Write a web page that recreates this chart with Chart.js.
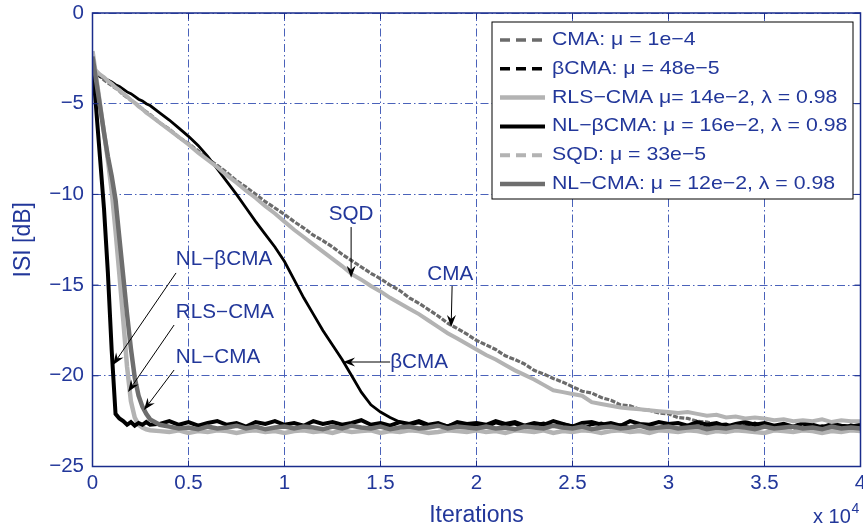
<!DOCTYPE html>
<html><head><meta charset="utf-8">
<script src="https://cdn.jsdelivr.net/npm/chart.js@4.4.1/dist/chart.umd.min.js"></script>
<style>html,body{margin:0;padding:0;background:#fff;}#wrap{width:863px;height:531px;}</style>
</head><body><div id="wrap"><canvas id="c" width="863" height="531"></canvas></div>
<script>
// ---- data (iterations in units of 1e4, ISI in dB) ----
const iterations = [0,0.02,0.04,0.06,0.08,0.10,0.12,0.14,0.16,0.18,0.20,0.22,0.24,0.26,0.28,0.30,
0.35,0.40,0.45,0.50,0.55,0.60,0.65,0.70,0.75,0.80,0.85,0.90,0.95,1.00,
1.05,1.10,1.15,1.20,1.25,1.30,1.35,1.40,1.45,1.50,1.55,1.60,1.65,1.70,1.75,1.80,1.85,1.90,1.95,2.00,
2.05,2.10,2.15,2.20,2.25,2.30,2.35,2.40,2.45,2.50,2.55,2.60,2.65,2.70,2.75,2.80,2.85,2.90,2.95,3.00,
3.05,3.10,3.15,3.20,3.25,3.30,3.35,3.40,3.45,3.50,3.55,3.60,3.65,3.70,3.75,3.80,3.85,3.90,3.95,4.00];

const cmaISI = [-3.2,-3.35,-3.5,-3.7,-3.85,-4.0,-4.15,-4.3,-4.5,-4.65,-4.8,-4.95,-5.1,-5.3,-5.45,-5.6,
-6.05,-6.4,-6.85,-7.2,-7.6,-8.05,-8.4,-8.8,-9.25,-9.6,-10.0,-10.4,-10.75,-11.1,
-11.5,-11.85,-12.25,-12.55,-12.9,-13.3,-13.65,-14.0,-14.35,-14.65,-15.0,-15.3,-15.7,-16.0,-16.35,-16.7,-17.1,-17.4,-17.7,-18.05,
-18.3,-18.55,-18.9,-19.1,-19.35,-19.7,-19.9,-20.15,-20.35,-20.6,-20.85,-20.95,-21.2,-21.35,-21.6,-21.65,-21.85,-21.9,-22.05,-22.1,
-22.3,-22.35,-22.5,-22.55,-22.7,-22.7,-22.85,-22.75,-22.9,-22.8,-22.95,-22.8,-22.9,-22.85,-22.8,-22.9,-22.95,-22.8,-22.95,-22.85];

const betaCmaISI = [-3.3,-3.4,-3.5,-3.6,-3.7,-3.8,-3.95,-4.05,-4.2,-4.35,-4.45,-4.6,-4.75,-4.85,-5.0,-5.1,
-5.5,-5.9,-6.35,-6.8,-7.3,-7.9,-8.6,-9.3,-10.0,-10.75,-11.5,-12.2,-12.9,-13.7,
-14.7,-15.7,-16.6,-17.5,-18.3,-19.1,-20.0,-20.9,-21.6,-22.0,-22.3,-22.55,-22.7,-22.6,-22.8,-22.65,-22.75,-22.6,-22.8,-22.7,
-22.85,-22.6,-22.75,-22.65,-22.9,-22.7,-22.6,-22.8,-22.65,-22.75,-22.9,-22.7,-22.6,-22.8,-22.7,-22.85,-22.65,-22.75,-22.9,-22.7,
-22.6,-22.8,-22.75,-22.9,-22.7,-22.65,-22.85,-22.75,-22.6,-22.8,-22.9,-22.7,-22.8,-22.65,-22.9,-22.75,-22.8,-22.95,-22.7,-22.85];

const rlsCmaISI = [-2.1,-3.6,-5.1,-6.6,-8.1,-9.8,-12.0,-14.4,-16.9,-19.5,-21.4,-22.3,-22.7,-22.85,-22.95,-23.0,
-23.05,-23.1,-23.0,-23.15,-23.05,-23.1,-23.0,-23.05,-23.15,-23.05,-23.0,-23.1,-23.05,-23.15,
-23.05,-23.0,-23.1,-23.05,-23.15,-23.0,-23.1,-23.05,-23.0,-23.15,-23.05,-23.1,-23.0,-23.05,-23.15,-23.1,-23.0,-23.05,-23.1,-23.0,
-23.1,-23.05,-23.15,-23.0,-23.05,-23.1,-23.0,-23.15,-23.05,-23.1,-23.0,-23.05,-23.15,-23.05,-23.0,-23.1,-23.05,-23.15,-23.0,-23.05,
-23.1,-23.0,-23.05,-23.15,-23.05,-23.1,-23.0,-23.05,-23.1,-23.15,-23.0,-23.05,-23.1,-23.0,-23.05,-23.15,-23.05,-23.1,-23.0,-23.05];

const nlBetaCmaISI = [-2.8,-5.4,-8.1,-10.8,-14.3,-18.6,-22.1,-22.35,-22.5,-22.7,-22.55,-22.75,-22.6,-22.7,-22.55,-22.7,
-22.65,-22.5,-22.7,-22.55,-22.75,-22.6,-22.5,-22.7,-22.6,-22.8,-22.55,-22.65,-22.5,-22.7,
-22.6,-22.75,-22.5,-22.65,-22.55,-22.7,-22.6,-22.45,-22.7,-22.6,-22.75,-22.55,-22.65,-22.5,-22.7,-22.6,-22.8,-22.55,-22.65,-22.6,
-22.7,-22.5,-22.65,-22.55,-22.75,-22.6,-22.7,-22.5,-22.65,-22.8,-22.6,-22.55,-22.7,-22.6,-22.75,-22.5,-22.65,-22.7,-22.55,-22.65,
-22.6,-22.75,-22.55,-22.7,-22.6,-22.8,-22.65,-22.55,-22.7,-22.6,-22.75,-22.65,-22.8,-22.6,-22.7,-22.85,-22.65,-22.75,-22.8,-22.7];

const sqdISI = [-3.0,-3.2,-3.4,-3.55,-3.75,-3.9,-4.1,-4.25,-4.45,-4.6,-4.8,-4.95,-5.15,-5.3,-5.5,-5.65,
-6.05,-6.45,-6.85,-7.25,-7.7,-8.1,-8.5,-8.95,-9.35,-9.8,-10.2,-10.65,-11.05,-11.5,
-11.95,-12.35,-12.75,-13.15,-13.55,-13.95,-14.4,-14.7,-15.05,-15.35,-15.7,-16.0,-16.3,-16.6,-16.95,-17.3,-17.65,-17.95,-18.25,-18.55,
-18.85,-19.1,-19.4,-19.7,-19.95,-20.2,-20.5,-20.8,-20.9,-21.0,-21.1,-21.45,-21.55,-21.65,-21.75,-21.8,-21.85,-21.9,-21.95,-22.0,
-22.05,-22.0,-22.1,-22.2,-22.15,-22.3,-22.25,-22.35,-22.3,-22.35,-22.45,-22.4,-22.5,-22.45,-22.5,-22.4,-22.55,-22.45,-22.5,-22.5];

const nlCmaISI = [-2.4,-3.8,-5.2,-6.6,-7.9,-9.0,-10.3,-12.4,-14.5,-16.6,-18.5,-20.1,-21.1,-21.7,-22.1,-22.4,
-22.7,-22.8,-22.9,-22.85,-22.95,-22.8,-22.9,-22.85,-22.75,-22.9,-22.8,-22.95,-22.85,-22.8,
-22.9,-22.8,-22.85,-22.95,-22.8,-22.9,-22.75,-22.85,-22.9,-22.8,-22.95,-22.85,-22.8,-22.9,-22.85,-22.75,-22.9,-22.8,-22.85,-22.9,
-22.8,-22.9,-22.85,-22.95,-22.8,-22.85,-22.9,-22.75,-22.85,-22.9,-22.8,-22.95,-22.85,-22.8,-22.9,-22.85,-22.75,-22.9,-22.85,-22.8,
-22.9,-22.85,-22.8,-22.95,-22.85,-22.9,-22.8,-22.85,-22.95,-22.8,-22.9,-22.85,-22.8,-22.9,-22.85,-22.95,-22.8,-22.9,-22.85,-22.9];

const seriesNames = ['CMA: \u03bc = 1e\u22124', '\u03b2CMA: \u03bc = 48e\u22125', 'RLS\u2212CMA \u03bc= 14e\u22122, \u03bb = 0.98',
  'NL\u2212\u03b2CMA: \u03bc = 16e\u22122, \u03bb = 0.98', 'SQD: \u03bc = 33e\u22125', 'NL\u2212CMA: \u03bc = 12e\u22122, \u03bb = 0.98'];
const xTickLabels = ['0','0.5','1','1.5','2','2.5','3','3.5','4'];
const yTickLabels = ['0','\u22125','\u221210','\u221215','\u221220','\u221225'];
const annotations = [
  {text:'SQD', tx:1.347, ty:-11.14, from:[1.347,-11.8], to:[1.347,-14.6]},
  {text:'CMA', tx:1.863, ty:-14.44, from:[1.873,-15.05], to:[1.868,-17.31]},
  {text:'\u03b2CMA', tx:1.701, ty:-19.29, from:[1.55,-19.24], to:[1.305,-19.24]},
  {text:'NL\u2212\u03b2CMA', tx:0.685, ty:-13.62, from:[0.435,-14.33], to:[0.107,-19.4]},
  {text:'RLS\u2212CMA', tx:0.69, ty:-16.54, from:[0.425,-17.2], to:[0.185,-20.89]},
  {text:'NL\u2212CMA', tx:0.654, ty:-19.02, from:[0.425,-19.68], to:[0.268,-21.89]}
];

// ---- styles ----
const BLUE = '#22379a', AXIS = '#1a2c8c', GRID = '#4a62ba';
const FONT = '"Liberation Sans", Arial, Helvetica, sans-serif';
const styles = [
  {color:'#6b6b6b', width:3.2, dash:[5,1.5], legendDash:[10,6]},
  {color:'#000000', width:2.8, dash:[], legendDash:[10,6]},
  {color:'#b3b3b3', width:4.5, dash:[], legendDash:[]},
  {color:'#000000', width:4, dash:[], legendDash:[]},
  {color:'#b3b3b3', width:4, dash:[], legendDash:[10,6]},
  {color:'#6e6e6e', width:4.5, dash:[], legendDash:[]}
];
const seriesValues = [cmaISI, betaCmaISI, rlsCmaISI, nlBetaCmaISI, sqdISI, nlCmaISI];

const datasets = seriesValues.map((vals, i) => ({
  label: seriesNames[i],
  data: iterations.map((x, k) => ({x: x, y: vals[k]})),
  borderColor: styles[i].color,
  borderWidth: styles[i].width,
  borderDash: styles[i].dash,
  legendDash: styles[i].legendDash,
  pointRadius: 0,
  tension: 0,
  fill: false,
  order: 5 - i
}));

function stretchedText(ctx, text, x, y, sx, align) {
  ctx.save();
  const w = ctx.measureText(text).width * sx;
  let left = x;
  if (align === 'center') left = x - w / 2;
  ctx.translate(left, y);
  ctx.scale(sx, 1);
  ctx.textAlign = 'left';
  ctx.fillText(text, 0, 0);
  ctx.restore();
}

function drawArrow(ctx, x1, y1, x2, y2) {
  ctx.save();
  ctx.strokeStyle = '#000'; ctx.fillStyle = '#000'; ctx.lineWidth = 1;
  const ang = Math.atan2(y2 - y1, x2 - x1);
  const L = 12, W = 4.5, N = 8;
  const bx = x2 - L * Math.cos(ang), by = y2 - L * Math.sin(ang);
  const nx = x2 - N * Math.cos(ang), ny = y2 - N * Math.sin(ang);
  ctx.beginPath(); ctx.moveTo(x1, y1); ctx.lineTo(nx, ny); ctx.stroke();
  const px = -Math.sin(ang), py = Math.cos(ang);
  ctx.beginPath();
  ctx.moveTo(x2, y2);
  ctx.lineTo(bx + px * W, by + py * W);
  ctx.lineTo(nx, ny);
  ctx.lineTo(bx - px * W, by - py * W);
  ctx.closePath(); ctx.fill();
  ctx.restore();
}

const decorPlugin = {
  id: 'decor',
  afterDatasetsDraw(chart) {
    const ctx = chart.ctx, a = chart.chartArea, xs = chart.scales.x, ys = chart.scales.y;
    ctx.save();
    ctx.strokeStyle = AXIS; ctx.lineWidth = 1.5; ctx.setLineDash([]);
    ctx.strokeRect(a.left, a.top, a.right - a.left, a.bottom - a.top);
    ctx.lineWidth = 1;
    const T = 6;
    xs.ticks.forEach(t => {
      const p = xs.getPixelForValue(t.value);
      ctx.beginPath(); ctx.moveTo(p, a.bottom); ctx.lineTo(p, a.bottom - T);
      ctx.moveTo(p, a.top); ctx.lineTo(p, a.top + T); ctx.stroke();
    });
    ys.ticks.forEach(t => {
      const p = ys.getPixelForValue(t.value);
      ctx.beginPath(); ctx.moveTo(a.left, p); ctx.lineTo(a.left + T, p);
      ctx.moveTo(a.right, p); ctx.lineTo(a.right - T, p); ctx.stroke();
    });
    ctx.restore();
  },
  afterDraw(chart) {
    const ctx = chart.ctx, a = chart.chartArea, xs = chart.scales.x, ys = chart.scales.y;
    // annotations
    ctx.save();
    ctx.fillStyle = BLUE; ctx.font = '19.5px ' + FONT; ctx.textBaseline = 'middle';
    annotations.forEach(an => {
      stretchedText(ctx, an.text, xs.getPixelForValue(an.tx), ys.getPixelForValue(an.ty), 1.06, 'center');
      drawArrow(ctx, xs.getPixelForValue(an.from[0]), ys.getPixelForValue(an.from[1]),
                     xs.getPixelForValue(an.to[0]), ys.getPixelForValue(an.to[1]));
    });
    ctx.restore();
    // legend box
    ctx.save();
    const bx = a.left + 399.5, by = a.top + 9, bw = 361, bh = 177;
    ctx.fillStyle = '#fff'; ctx.fillRect(bx, by, bw, bh);
    ctx.strokeStyle = '#000'; ctx.lineWidth = 1; ctx.strokeRect(bx, by, bw, bh);
    ctx.font = '18.5px ' + FONT; ctx.textBaseline = 'middle';
    chart.data.datasets.forEach((ds, i) => {
      const ry = by + 18 + i * 28.8;
      ctx.strokeStyle = ds.borderColor; ctx.lineWidth = Math.max(ds.borderWidth, 3.5);
      ctx.setLineDash(ds.legendDash); ctx.lineCap = 'butt';
      ctx.beginPath(); ctx.moveTo(bx + 8, ry); ctx.lineTo(bx + 53, ry); ctx.stroke();
      ctx.setLineDash([]);
      ctx.fillStyle = BLUE;
      stretchedText(ctx, ds.label, bx + 60, ry, 1.15, 'left');
    });
    ctx.restore();
    // exponent label
    ctx.save();
    ctx.fillStyle = BLUE; ctx.textBaseline = 'alphabetic';
    ctx.font = '20px ' + FONT;
    ctx.fillText('x 10', 813, 523);
    ctx.font = '14px ' + FONT;
    ctx.fillText('4', 851.5, 513);
    ctx.restore();
  }
};

new Chart(document.getElementById('c'), {
  type: 'line',
  data: { datasets: datasets },
  options: {
    responsive: false, animation: false, events: [], devicePixelRatio: 1,
    layout: { padding: { top: 13, right: 2.5, bottom: 0, left: 0 } },
    plugins: { legend: { display: false }, tooltip: { enabled: false } },
    scales: {
      x: {
        type: 'linear', min: 0, max: 4,
        ticks: { stepSize: 0.5, autoSkip: false, maxRotation: 0, padding: 5, color: BLUE,
          font: { family: FONT, size: 20.5 },
          callback: v => xTickLabels[Math.round(v * 2)] },
        grid: { color: GRID, lineWidth: 1, drawTicks: false },
        border: { display: false, dash: [8, 3, 1.5, 3] },
        title: { display: true, text: 'Iterations', color: BLUE, font: { family: FONT, size: 23 }, padding: { top: 0, bottom: 2 } },
        afterFit: s => { s.height = 64.5; s.paddingLeft = 0; s.paddingRight = 0; }
      },
      y: {
        type: 'linear', min: -25, max: 0,
        ticks: { stepSize: 5, padding: 8.5, color: BLUE, font: { family: FONT, size: 20.5 },
          callback: v => yTickLabels[Math.round(-v / 5)] },
        grid: { color: GRID, lineWidth: 1, drawTicks: false },
        border: { display: false, dash: [8, 3, 1.5, 3] },
        title: { display: true, text: 'ISI [dB]', color: BLUE, font: { family: FONT, size: 23 }, padding: { top: 10, bottom: 0 } },
        afterFit: s => { s.width = 92.5; s.paddingTop = 0; s.paddingBottom = 0; }
      }
    }
  },
  plugins: [decorPlugin]
});
</script>
</body></html>
